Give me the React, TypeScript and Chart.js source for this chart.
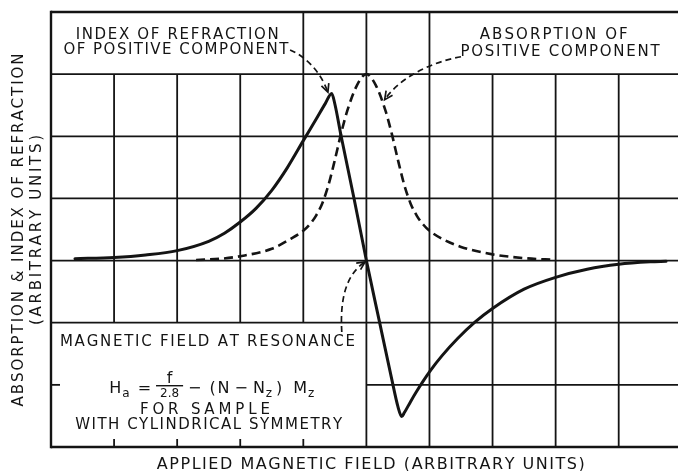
import React, { useEffect, useRef } from "react";
import { Chart, registerables } from "chart.js";

Chart.register(...registerables);

// ---------------- data ----------------
const refractionField = [0.38, 1.0, 1.5, 2.0, 2.5, 2.75, 3.0, 3.25, 3.5, 3.75, 4.0, 4.2, 4.35, 4.45, 4.5, 4.6, 4.8, 5.0, 5.2, 5.4, 5.5, 5.56, 5.6, 5.7, 5.8, 5.9, 6.0, 6.2, 6.45, 6.72, 7.0, 7.5, 8.0, 8.5, 9.0, 9.5, 9.75];
const refractionValue = [0.03, 0.05, 0.09, 0.16, 0.31, 0.44, 0.62, 0.84, 1.13, 1.5, 1.93, 2.27, 2.53, 2.69, 2.52, 2.0, 1.02, 0.0, -0.95, -1.9, -2.35, -2.51, -2.45, -2.27, -2.1, -1.94, -1.79, -1.53, -1.25, -0.99, -0.77, -0.46, -0.27, -0.14, -0.06, -0.02, -0.01];

const absorptionField = [2.3, 2.7, 3.0, 3.5, 3.8, 4.0, 4.1, 4.2, 4.3, 4.4, 4.5, 4.6, 4.7, 4.85, 5.0, 5.15, 5.3, 5.4, 5.5, 5.6, 5.7, 5.8, 5.9, 6.0, 6.2, 6.5, 7.0, 7.5, 8.0];
const absorptionValue = [0.01, 0.03, 0.07, 0.19, 0.35, 0.48, 0.58, 0.72, 0.92, 1.22, 1.62, 2.05, 2.42, 2.82, 3.0, 2.82, 2.42, 2.05, 1.62, 1.22, 0.92, 0.72, 0.58, 0.48, 0.35, 0.22, 0.1, 0.04, 0.01];

const xGridValues = [1, 2, 3, 4, 5, 6, 7, 8, 9];
const yGridValues = [-2, -1, 0, 1, 2, 3];
const xMin = 0;
const xMax = 9.94;
const yMin = -3;
const yMax = 4;

const xAxisTitle = "APPLIED MAGNETIC FIELD (ARBITRARY UNITS)";
const yAxisTitleLines = ["ABSORPTION & INDEX OF REFRACTION", "(ARBITRARY UNITS)"];
const refractionLabel = ["INDEX OF REFRACTION", "OF POSITIVE COMPONENT"];
const absorptionLabel = ["ABSORPTION OF", "POSITIVE COMPONENT"];
const resonanceLabel = "MAGNETIC FIELD AT RESONANCE";
const sampleNote = ["FOR SAMPLE", "WITH CYLINDRICAL SYMMETRY"];

// ---------------- styling / layout ----------------
const FONT = '"DejaVu Sans", "Liberation Sans", sans-serif';
const INK = "#141414";

const boxes = [
  { x0: 0, x1: 4, y0: 3, y1: 4, ticks: false },
  { x0: 6, x1: xMax, y0: 3, y1: 4, ticks: false },
  { x0: 0, x1: 5, y0: -3, y1: -1, ticks: true },
];

type TextItem = { text: string; x: number; y: number; w: number; size: number; rotate?: boolean };
const textItems: TextItem[] = [
  { text: refractionLabel[0], x: 2.0, y: 3.655, w: 203, size: 15 },
  { text: refractionLabel[1], x: 1.98, y: 3.413, w: 225, size: 15 },
  { text: absorptionLabel[0], x: 7.97, y: 3.655, w: 148, size: 15 },
  { text: absorptionLabel[1], x: 8.07, y: 3.373, w: 199, size: 15 },
  { text: resonanceLabel, x: 2.48, y: -1.294, w: 295, size: 15 },
  { text: sampleNote[0], x: 2.44, y: -2.388, w: 130, size: 15 },
  { text: sampleNote[1], x: 2.5, y: -2.629, w: 267, size: 15 },
  { text: xAxisTitle, x: 5.07, y: -3.265, w: 428, size: 16 },
  { text: yAxisTitleLines[0], x: -0.53, y: 0.492, w: 353, size: 15, rotate: true },
  { text: yAxisTitleLines[1], x: -0.25, y: 0.492, w: 190, size: 15, rotate: true },
];

const arrows = [
  [[3.79, 3.39], [4.02, 3.29], [4.26, 3.07], [4.39, 2.71]],
  [[6.5, 3.28], [6.01, 3.19], [5.53, 2.94], [5.29, 2.59]],
  [[4.61, -1.15], [4.58, -0.63], [4.67, -0.23], [4.98, -0.02]],
];

const formulaAnchor = { x: 2.55, y: -2.03 };
const formulaWidth = 205;

function subtract(segs: number[][], lo: number, hi: number) {
  const out: number[][] = [];
  for (const [s, e] of segs) {
    if (hi <= s || lo >= e) {
      out.push([s, e]);
      continue;
    }
    if (lo > s) out.push([s, lo]);
    if (hi < e) out.push([hi, e]);
  }
  return out;
}

function drawSpaced(ctx: CanvasRenderingContext2D, text: string, cx: number, baseline: number, width: number) {
  const chars = Array.from(text);
  const ws = chars.map((c) => ctx.measureText(c).width);
  const natural = ws.reduce((a, b) => a + b, 0);
  const gap = chars.length > 1 ? (width - natural) / (chars.length - 1) : 0;
  let x = cx - width / 2;
  ctx.textAlign = "left";
  chars.forEach((c, i) => {
    ctx.fillText(c, x, baseline);
    x += ws[i] + gap;
  });
}

const decorPlugin = {
  id: "decor",
  beforeDraw(chart: any) {
    const { ctx, width, height } = chart;
    ctx.save();
    ctx.fillStyle = "#ffffff";
    ctx.fillRect(0, 0, width, height);
    ctx.restore();
  },
  beforeDatasetsDraw(chart: any) {
    const { ctx, chartArea: a } = chart;
    const xs = chart.scales.x;
    const ys = chart.scales.y;
    const X = (v: number) => xs.getPixelForValue(v);
    const Y = (v: number) => ys.getPixelForValue(v);
    ctx.save();
    ctx.strokeStyle = INK;
    ctx.lineCap = "butt";
    const line = (x1: number, y1: number, x2: number, y2: number) => {
      ctx.beginPath();
      ctx.moveTo(x1, y1);
      ctx.lineTo(x2, y2);
      ctx.stroke();
    };
    // grid
    ctx.lineWidth = 1.8;
    for (const v of xGridValues) {
      let segs = [[yMin, yMax]];
      for (const b of boxes) if (v > b.x0 && v < b.x1) segs = subtract(segs, b.y0, b.y1);
      for (const [s, e] of segs) line(X(v), Y(s), X(v), Y(e));
      for (const b of boxes) {
        if (b.ticks && v > b.x0 && v < b.x1 && b.y0 === yMin) line(X(v), Y(yMin), X(v), Y(yMin) - 8);
      }
    }
    for (const h of yGridValues) {
      let segs = [[xMin, xMax]];
      for (const b of boxes) if (h > b.y0 && h < b.y1) segs = subtract(segs, b.x0, b.x1);
      for (const [s, e] of segs) line(X(s), Y(h), X(e), Y(h));
      for (const b of boxes) {
        if (b.ticks && h > b.y0 && h < b.y1 && b.x0 === xMin) line(X(xMin), Y(h), X(xMin) + 9, Y(h));
      }
    }
    // frame: left, top, bottom (right side runs off the picture)
    ctx.lineWidth = 2.4;
    line(X(xMin), Y(yMax) - 1.2, X(xMin), Y(yMin) + 1.2);
    line(X(xMin), Y(yMax), a.right, Y(yMax));
    line(X(xMin), Y(yMin), a.right, Y(yMin));

    // texts
    ctx.fillStyle = INK;
    for (const t of textItems) {
      ctx.font = `${t.size}px ${FONT}`;
      const cap = t.size * 0.729;
      const cx = X(t.x);
      const cy = Y(t.y);
      if (t.rotate) {
        ctx.save();
        ctx.translate(cx, cy);
        ctx.rotate(-Math.PI / 2);
        drawSpaced(ctx, t.text, 0, cap / 2, t.w);
        ctx.restore();
      } else {
        drawSpaced(ctx, t.text, cx, cy + cap / 2, t.w);
      }
    }

    // formula  H_a = f/2.8 − (N−N_z) M_z
    const main = `16px ${FONT}`;
    const small = `12px ${FONT}`;
    const cx = X(formulaAnchor.x);
    const cy = Y(formulaAnchor.y);
    const base = cy + (16 * 0.729) / 2;
    const subBase = base + 4;
    ctx.font = small;
    const fracW = ctx.measureText("2.8").width + 8;
    type Piece = { t: string; f: string; sub?: boolean; frac?: boolean; wt: number };
    const pieces: Piece[] = [
      { t: "H", f: main, wt: 0 },
      { t: "a", f: small, sub: true, wt: 0.1 },
      { t: "=", f: main, wt: 0.8 },
      { t: "", f: main, frac: true, wt: 0.5 },
      { t: "−", f: main, wt: 0.5 },
      { t: "(", f: main, wt: 0.8 },
      { t: "N", f: main, wt: 0.2 },
      { t: "−", f: main, wt: 0.5 },
      { t: "N", f: main, wt: 0.5 },
      { t: "z", f: small, sub: true, wt: 0.1 },
      { t: ")", f: main, wt: 0.4 },
      { t: "M", f: main, wt: 1.1 },
      { t: "z", f: small, sub: true, wt: 0.1 },
    ];
    const widthOf = (p: Piece) => {
      if (p.frac) return fracW;
      ctx.font = p.f;
      return ctx.measureText(p.t).width;
    };
    let natural = 0;
    let wsum = 0;
    pieces.forEach((p) => {
      natural += widthOf(p);
      wsum += p.wt;
    });
    const unit = Math.max(0, (formulaWidth - natural) / wsum);
    let px = cx - formulaWidth / 2;
    ctx.textAlign = "left";
    for (const p of pieces) {
      px += p.wt * unit;
      const w = widthOf(p);
      if (p.frac) {
        const barY = cy - 1;
        ctx.lineWidth = 1.4;
        line(px, barY, px + fracW, barY);
        ctx.font = main;
        ctx.textAlign = "center";
        ctx.fillText("f", px + fracW / 2, barY - 3);
        ctx.font = small;
        ctx.fillText("2.8", px + fracW / 2, barY + 11);
        ctx.textAlign = "left";
      } else {
        ctx.font = p.f;
        ctx.fillText(p.t, px, p.sub ? subBase : base);
      }
      px += w;
    }

    // dashed pointer arrows
    ctx.lineWidth = 1.7;
    for (const arr of arrows) {
      const P = arr.map(([vx, vy]) => [X(vx), Y(vy)]);
      ctx.setLineDash([6, 4]);
      ctx.beginPath();
      ctx.moveTo(P[0][0], P[0][1]);
      ctx.bezierCurveTo(P[1][0], P[1][1], P[2][0], P[2][1], P[3][0], P[3][1]);
      ctx.stroke();
      ctx.setLineDash([]);
      const ang = Math.atan2(P[3][1] - P[2][1], P[3][0] - P[2][0]);
      const L = 9;
      const sp = 0.45;
      ctx.beginPath();
      ctx.moveTo(P[3][0] - L * Math.cos(ang - sp), P[3][1] - L * Math.sin(ang - sp));
      ctx.lineTo(P[3][0], P[3][1]);
      ctx.lineTo(P[3][0] - L * Math.cos(ang + sp), P[3][1] - L * Math.sin(ang + sp));
      ctx.stroke();
    }
    ctx.restore();
  },
};

export default function App() {
  const ref = useRef<HTMLCanvasElement | null>(null);
  useEffect(() => {
    if (!ref.current) return;
    const chart = new Chart(ref.current, {
      type: "line",
      data: {
        datasets: [
          {
            label: "Index of refraction of positive component",
            data: refractionField.map((x, i) => ({ x, y: refractionValue[i] })),
            borderColor: INK,
            borderWidth: 3,
            pointRadius: 0,
            fill: false,
            cubicInterpolationMode: "monotone",
            borderCapStyle: "round",
            borderJoinStyle: "round",
          },
          {
            label: "Absorption of positive component",
            data: absorptionField.map((x, i) => ({ x, y: absorptionValue[i] })),
            borderColor: INK,
            borderWidth: 2.6,
            borderDash: [9, 5],
            pointRadius: 0,
            fill: false,
            cubicInterpolationMode: "monotone",
          },
        ],
      },
      options: {
        animation: false,
        responsive: false,
        maintainAspectRatio: false,
        layout: { padding: { left: 51, top: 12, right: 0, bottom: 24 } },
        scales: {
          x: { type: "linear", min: xMin, max: xMax, display: false },
          y: { type: "linear", min: yMin, max: yMax, display: false },
        },
        plugins: { legend: { display: false }, tooltip: { enabled: false }, title: { display: false } },
      },
      plugins: [decorPlugin],
    } as any);
    return () => chart.destroy();
  }, []);
  return (
    <div style={{ position: "fixed", left: 0, top: 0, width: 678, height: 471, background: "#fff" }}>
      <canvas ref={ref} width={678} height={471} style={{ display: "block", width: 678, height: 471 }} />
    </div>
  );
}
